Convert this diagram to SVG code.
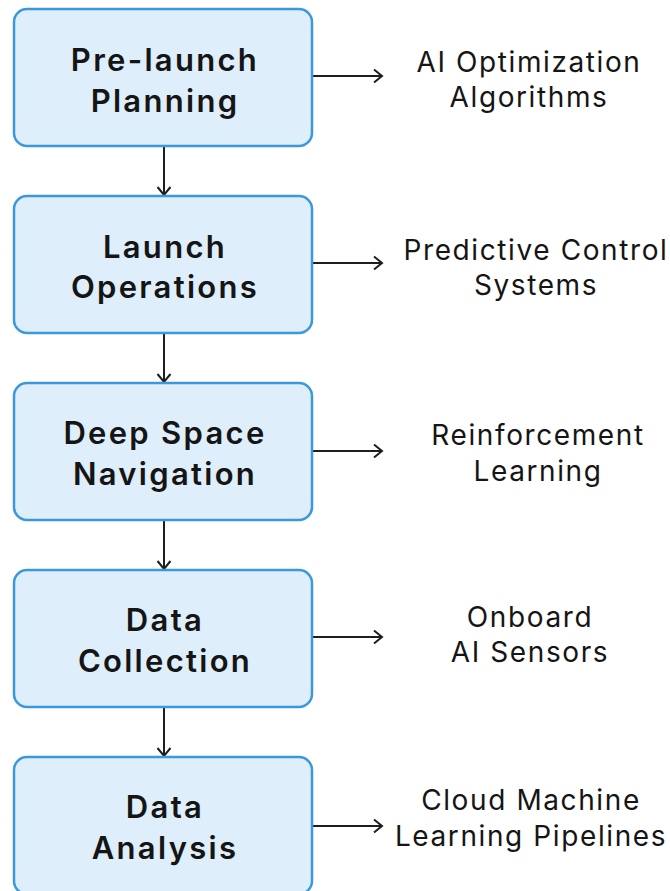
<svg xmlns="http://www.w3.org/2000/svg" width="670" height="891" viewBox="0 0 670 891">
<defs>
<marker id="arr" markerWidth="14" markerHeight="16" refX="11" refY="8" orient="auto" markerUnits="userSpaceOnUse">
<path d="M3,1.5 L11,8 L3,14.5" fill="none" stroke="#1e1e1e" stroke-width="2"/>
</marker>
<style>
.box{fill:#deeefa;stroke:#3a98dc;stroke-width:2.5}
.t{font-family:Inter,"Noto Sans",sans-serif;font-weight:600;font-size:31px;letter-spacing:2.3px;fill:#151515;text-anchor:middle}
.l{font-family:Inter,"Noto Sans",sans-serif;font-weight:400;font-size:28px;letter-spacing:1.6px;fill:#151515;text-anchor:middle}
.c{stroke:#1e1e1e;stroke-width:2;fill:none}
</style>
</defs>
<rect width="670" height="891" fill="#ffffff"/>
<g id="connectors">
<line class="c" x1="164" y1="147" x2="164" y2="195" marker-end="url(#arr)"/>
<line class="c" x1="164" y1="334" x2="164" y2="382" marker-end="url(#arr)"/>
<line class="c" x1="164" y1="521" x2="164" y2="569" marker-end="url(#arr)"/>
<line class="c" x1="164" y1="708" x2="164" y2="756" marker-end="url(#arr)"/>
<line class="c" x1="313" y1="76" x2="382" y2="76" marker-end="url(#arr)"/>
<line class="c" x1="313" y1="263" x2="382" y2="263" marker-end="url(#arr)"/>
<line class="c" x1="313" y1="451" x2="382" y2="451" marker-end="url(#arr)"/>
<line class="c" x1="313" y1="637" x2="382" y2="637" marker-end="url(#arr)"/>
<line class="c" x1="313" y1="826" x2="382" y2="826" marker-end="url(#arr)"/>
</g>
<g id="node1">
<rect class="box" x="14" y="9" width="298" height="137" rx="13"/>
<text class="t" x="165" y="71">Pre-launch</text>
<text class="t" x="165" y="112">Planning</text>
</g>
<g id="node2">
<rect class="box" x="14" y="196" width="298" height="137" rx="13"/>
<text class="t" x="165" y="258">Launch</text>
<text class="t" x="165" y="298">Operations</text>
</g>
<g id="node3">
<rect class="box" x="14" y="383" width="298" height="137" rx="13"/>
<text class="t" x="165" y="444">Deep Space</text>
<text class="t" x="165" y="485">Navigation</text>
</g>
<g id="node4">
<rect class="box" x="14" y="570" width="298" height="137" rx="13"/>
<text class="t" x="165" y="631">Data</text>
<text class="t" x="165" y="672">Collection</text>
</g>
<g id="node5">
<rect class="box" x="14" y="757" width="298" height="137" rx="13"/>
<text class="t" x="165" y="818">Data</text>
<text class="t" x="165" y="859">Analysis</text>
</g>
<g id="label1">
<text class="l" x="529" y="72">AI Optimization</text>
<text class="l" x="529" y="107">Algorithms</text>
</g>
<g id="label2">
<text class="l" x="536" y="260">Predictive Control</text>
<text class="l" x="536" y="295">Systems</text>
</g>
<g id="label3">
<text class="l" x="538" y="445">Reinforcement</text>
<text class="l" x="538" y="481">Learning</text>
</g>
<g id="label4">
<text class="l" x="530" y="627">Onboard</text>
<text class="l" x="530" y="662">AI Sensors</text>
</g>
<g id="label5">
<text class="l" x="531" y="810">Cloud Machine</text>
<text class="l" x="531" y="846">Learning Pipelines</text>
</g>
</svg>
